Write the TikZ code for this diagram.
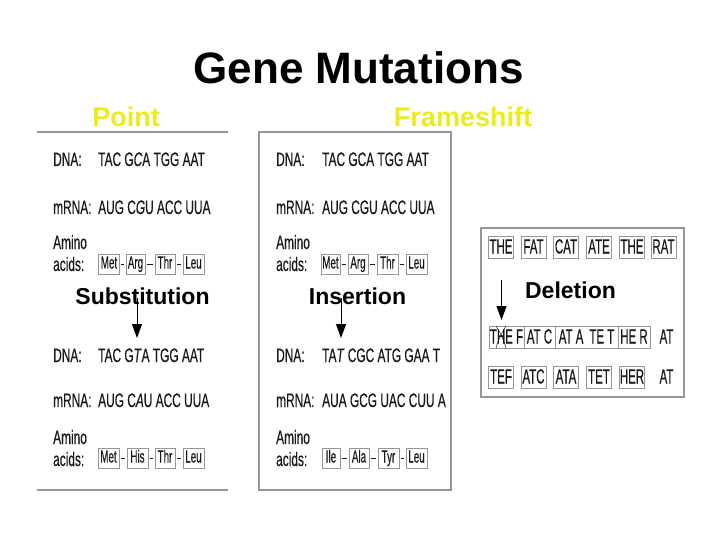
\documentclass[tikz,border=0pt]{standalone}
\usepackage{fontspec}
\setmainfont{Liberation Sans}
\newfontfamily\seqfont[FakeStretch=0.61,FakeBold=0.4]{Liberation Sans}
\newfontfamily\boxfont[FakeStretch=0.56,FakeBold=0.4]{Liberation Sans}
\usetikzlibrary{arrows.meta}
\definecolor{headyellow}{RGB}{235,235,30}
\definecolor{framegray}{RGB}{150,150,150}
\definecolor{inkgray}{RGB}{25,25,25}
\tikzset{
    frame/.style={draw=framegray,line width=1.5pt},
    seq/.style={anchor=base west,inner sep=0pt,text=inkgray,font=\seqfont\fontsize{19.5}{20}\selectfont},
    acid/.style={draw=framegray,line width=0.7pt,inner sep=0pt,minimum height=20pt,text height=12pt,text depth=3pt,text=inkgray,font=\boxfont\fontsize{17.5}{18}\selectfont},
    word/.style={draw=framegray,line width=0.7pt,inner sep=0pt,minimum height=22pt,minimum width=25pt,text height=14pt,text depth=1pt,text=inkgray,font=\boxfont\fontsize{20.5}{21}\selectfont},
    link/.style={draw=inkgray,line width=0.7pt,shorten <=1.5pt,shorten >=1.5pt},
    mutarrow/.style={draw=black,line width=1pt,-{Triangle[length=14pt,width=10pt]}},
    heading/.style={anchor=base,text=headyellow,font=\bfseries\fontsize{27}{30}\selectfont},
    kind/.style={anchor=base,text=black,font=\bfseries\fontsize{23}{26}\selectfont}
}
\begin{document}
\begin{tikzpicture}[x=1pt,y=-1pt]
    \useasboundingbox (0,0) rectangle (720,540);

    % titles
    \node[anchor=base,font=\bfseries\fontsize{44}{48}\selectfont] (title) at (358.5,84) {Gene Mutations};
    \node[heading] (point) at (126,127) {Point};
    \node[heading] (frameshift) at (463,127) {Frameshift};

    % panel frames
    \draw[frame] (37,132) -- (228,132);
    \draw[frame] (37,490) -- (228,490);
    \draw[frame] (259,132) rectangle (451,490);
    \draw[frame] (481,228) rectangle (684,397);

    % point: before
    \node[seq] (pdna) at (53,166) {DNA:};
    \node[seq] (pdnaseq) at (98,166) {TAC G\textit{C}A TGG AAT};
    \node[seq] (pmrna) at (53,214) {mRNA:};
    \node[seq] (pmrnaseq) at (98,214) {AUG C\textit{G}U ACC UUA};
    \node[seq] (pamino) at (53,249) {Amino};
    \node[seq] (pacids) at (53,271) {acids:};
    \node[acid,minimum width=21pt] (pmet) at (109,264) {Met};
    \node[acid,minimum width=19pt] (parg) at (135.5,264) {Arg};
    \node[acid,minimum width=20pt] (pthr) at (165,264) {Thr};
    \node[acid,minimum width=21pt] (pleu) at (193.5,264) {Leu};
    \draw[link] (pmet) -- (parg);
    \draw[link] (parg) -- (pthr);
    \draw[link] (pthr) -- (pleu);

    \node[kind] (subst) at (142.5,304) {Substitution};
    \coordinate (substfrom) at (137,298);
    \coordinate (substto) at (137,338);
    \draw[mutarrow] (substfrom) -- (substto);

    % point: after
    \node[seq] (sdna) at (53,362) {DNA:};
    \node[seq] (sdnaseq) at (98,362) {TAC G\textit{T}A TGG AAT};
    \node[seq] (smrna) at (53,407) {mRNA:};
    \node[seq] (smrnaseq) at (98,407) {AUG C\textit{A}U ACC UUA};
    \node[seq] (samino) at (53,444) {Amino};
    \node[seq] (sacids) at (53,466) {acids:};
    \node[acid,minimum width=21pt] (smet) at (108.5,458) {Met};
    \node[acid,minimum width=21pt] (shis) at (137.5,458) {His};
    \node[acid,minimum width=20pt] (sthr) at (165,458) {Thr};
    \node[acid,minimum width=21pt] (sleu) at (193.5,458) {Leu};
    \draw[link] (smet) -- (shis);
    \draw[link] (shis) -- (sthr);
    \draw[link] (sthr) -- (sleu);

    % frameshift: before
    \node[seq] (fdna) at (276,166) {DNA:};
    \node[seq] (fdnaseq) at (322,166) {TAC GCA TGG AAT};
    \node[seq] (fmrna) at (276,214) {mRNA:};
    \node[seq] (fmrnaseq) at (322,214) {AUG CGU ACC UUA};
    \node[seq] (famino) at (276,249) {Amino};
    \node[seq] (facids) at (276,271) {acids:};
    \node[acid,minimum width=19pt] (fmet) at (330.5,264) {Met};
    \node[acid,minimum width=20pt] (farg) at (358,264) {Arg};
    \node[acid,minimum width=21pt] (fthr) at (387.5,264) {Thr};
    \node[acid,minimum width=21pt] (fleu) at (416.5,264) {Leu};
    \draw[link] (fmet) -- (farg);
    \draw[link] (farg) -- (fthr);
    \draw[link] (fthr) -- (fleu);

    \node[kind] (insert) at (357.5,304) {Insertion};
    \coordinate (insertfrom) at (341,298);
    \coordinate (insertto) at (341,338);
    \draw[mutarrow] (insertfrom) -- (insertto);

    % frameshift: after
    \node[seq] (idna) at (276,362) {DNA:};
    \node[seq] (idnaseq) at (322,362) {TA\textit{T} CGC ATG GAA T};
    \node[seq] (imrna) at (276,407) {mRNA:};
    \node[seq] (imrnaseq) at (322,407) {AUA GCG UAC CUU A};
    \node[seq] (iamino) at (276,444) {Amino};
    \node[seq] (iacids) at (276,466) {acids:};
    \node[acid,minimum width=18pt] (iile) at (331,458) {Ile};
    \node[acid,minimum width=20pt] (iala) at (359,458) {Ala};
    \node[acid,minimum width=21pt] (ityr) at (388.5,458) {Tyr};
    \node[acid,minimum width=21pt] (ileu) at (416.5,458) {Leu};
    \draw[link] (iile) -- (iala);
    \draw[link] (iala) -- (ityr);
    \draw[link] (ityr) -- (ileu);

    % deletion
    \node[word] (w1) at (501,247) {THE};
    \node[word] (w2) at (533.5,247) {FAT};
    \node[word] (w3) at (566,247) {CAT};
    \node[word] (w4) at (599,247) {ATE};
    \node[word] (w5) at (632,247) {THE};
    \node[word] (w6) at (663.5,247) {RAT};

    \node[kind] (delete) at (570.5,298) {Deletion};
    \coordinate (deletefrom) at (501.5,280);
    \coordinate (deleteto) at (501.5,320);
    \draw[mutarrow] (deletefrom) -- (deleteto);

    \node[word,minimum width=35pt] (d1) at (506.5,337) {THE F};
    \node[word,minimum width=31pt] (d2) at (539.5,337) {AT C};
    \node[word,minimum width=63pt] (d3) at (586.5,337) {AT A\hspace{6pt}TE T};
    \node[word,minimum width=32pt] (d4) at (634,337) {HE R};
    \node[word,draw=none] (d5) at (666.5,337) {AT};
    \draw[draw=inkgray,line width=0.5pt] (496,326) to[bend left=8] (506,348);
    \draw[draw=inkgray,line width=0.5pt] (506,326) to[bend right=8] (496,348);

    \node[word] (r1) at (501,377) {TEF};
    \node[word] (r2) at (533.5,377) {ATC};
    \node[word] (r3) at (566,377) {ATA};
    \node[word] (r4) at (599,377) {TET};
    \node[word] (r5) at (632,377) {HER};
    \node[word,draw=none] (r6) at (666.5,377) {AT};
\end{tikzpicture}
\end{document}
